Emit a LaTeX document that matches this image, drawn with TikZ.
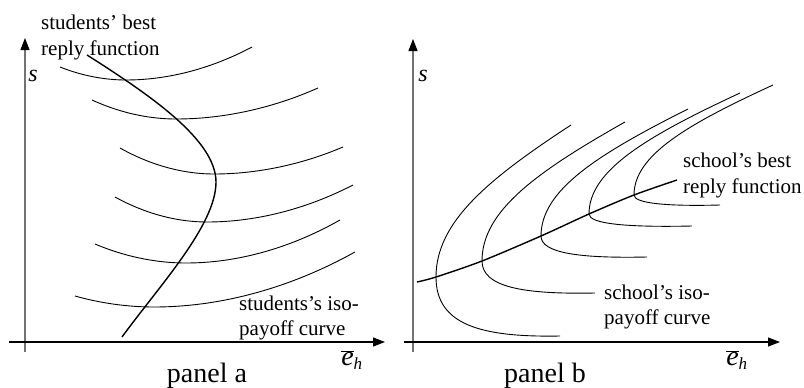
\documentclass[tikz,border=0pt]{standalone}
\usepackage{fontspec}
\setmainfont{Liberation Serif}
\usetikzlibrary{arrows.meta}
\newcommand\isob[6]{% xv yv xt yt xb yb
  \draw[iso] (#3,#4) .. controls ({#3-0.62*(#3-#1)},{#4+0.36*(#2-#4)}) and ({#1},{#2-0.36*(#2-#4)}) .. (#1,#2)
     .. controls ({#1},{#2+0.8*(#6-#2)}) and ({#1+0.35*(#5-#1)},{#6+1.5}) .. (#5,#6);}
\newcommand\ebarh{$\overline{\mbox{\itshape e}}_{\mbox{\fontsize{17}{19}\selectfont\itshape h}}$}
\begin{document}
\begin{tikzpicture}[x=1pt,y=-1pt,
  axis/.style={line width=1.1pt,-{Triangle[length=12pt,width=9pt,black]}},
  yaxis/.style={axis,draw=black!55},
  iso/.style={line width=0.9pt},
  reply/.style={line width=1.4pt},
  lbl/.style={font=\fontsize{21}{25}\selectfont,inner sep=0pt,anchor=base west},
  big/.style={font=\fontsize{28}{32}\selectfont,inner sep=0pt,anchor=base},
  var/.style={font=\fontsize{24}{28}\selectfont,inner sep=0pt},
  evar/.style={font=\fontsize{28}{32}\selectfont,inner sep=0pt},
]
\useasboundingbox (0,0) rectangle (804,388);

% ---------- panel a ----------
\coordinate (a-y0) at (25,352);
\coordinate (a-y1) at (25,38);
\coordinate (a-x0) at (9,342);
\coordinate (a-x1) at (385,342);
\draw[yaxis] (a-y0) -- (a-y1);
\draw[axis] (a-x0) -- (a-x1);

\draw[iso] (60,67) parabola bend (126,80) (252,47);
\draw[iso] (92,100) parabola bend (176,119) (318,88);
\draw[iso] (120,148) parabola bend (214,174) (343,147);
\draw[iso] (115,197) parabola bend (207,222) (353,185);
\draw[iso] (95,244) parabola bend (186,263) (340,220);
\draw[iso] (75,296) parabola bend (154,307) (355,252);

\coordinate (a-r0) at (87,55);
\coordinate (a-rm) at (216,182);
\coordinate (a-r1) at (122,337);
\draw[reply] (a-r0) .. controls (150,95) and (216,140) .. (a-rm)
             .. controls (216,225) and (160,285) .. (a-r1);

\node[lbl] (a-br1) at (41,30) {students’ best};
\node[lbl] (a-br2) at (41,56) {reply function};
\node[lbl] (a-iso1) at (239,310) {students’s iso-};
\node[lbl] (a-iso2) at (239,335) {payoff curve};
\node[var] (a-s) at (33,76) {\itshape s};
\node[evar] (a-e) at (352,360) {\ebarh};
\node[big] (a-panel) at (207,382) {panel a};

% ---------- panel b ----------
\coordinate (b-y0) at (413,352);
\coordinate (b-y1) at (413,39);
\coordinate (b-x0) at (404,342);
\coordinate (b-x1) at (780,342);
\draw[yaxis] (b-y0) -- (b-y1);
\draw[axis] (b-x0) -- (b-x1);

\isob{436}{277}{571}{125}{560}{336}
\isob{482}{261}{625}{122}{595}{293}
\isob{541}{236}{688}{109}{647}{257}
\isob{589}{214}{740}{93}{692}{226}
\isob{634}{195}{773}{85}{720}{205}

\draw[reply] plot[smooth,tension=0.5] coordinates {(417,282) (436,277) (482,261) (541,236) (589,214) (634,195) (677,180)};

\node[lbl] (b-br1) at (683,167) {school’s best};
\node[lbl] (b-br2) at (683,193) {reply function};
\node[lbl] (b-iso1) at (604,299) {school’s iso-};
\node[lbl] (b-iso2) at (604,324) {payoff curve};
\node[var] (b-s) at (423,76) {\itshape s};
\node[evar] (b-e) at (737,360) {\ebarh};
\node[big] (b-panel) at (545,382) {panel b};
\end{tikzpicture}
\end{document}
